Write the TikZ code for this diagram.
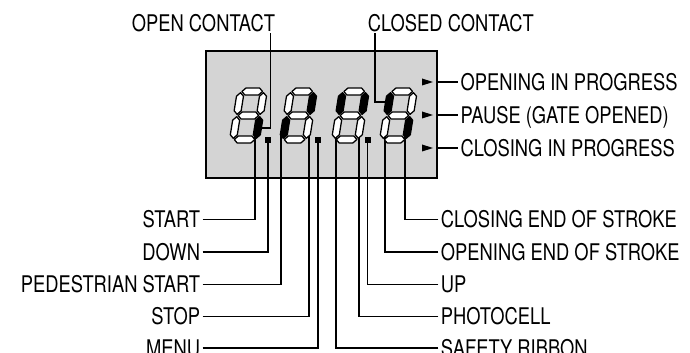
\documentclass[tikz,border=0pt]{standalone}
\usepackage{fontspec}
\setmainfont{TeX Gyre Heros}[FakeStretch=0.8]
\definecolor{lcd}{gray}{0.83}
\newcommand\SGap{1.2}
\newcommand\SHalf{3.5}
% horizontal segment: x1, x2, y, fill
\newcommand\hsegm[4]{\filldraw[seg,fill=#4] ({#1+\SGap},#3) -- ({#1+\SGap+\SHalf},{#3+\SHalf}) -- ({#2-\SGap-\SHalf},{#3+\SHalf}) -- ({#2-\SGap},#3) -- ({#2-\SGap-\SHalf},{#3-\SHalf}) -- ({#1+\SGap+\SHalf},{#3-\SHalf}) -- cycle;}
% vertical segment: x, y1, y2, fill
\newcommand\vsegm[4]{\filldraw[seg,fill=#4] (#1,{#2+\SGap}) -- ({#1+\SHalf},{#2+\SGap+\SHalf}) -- ({#1+\SHalf},{#3-\SGap-\SHalf}) -- (#1,{#3-\SGap}) -- ({#1-\SHalf},{#3-\SGap-\SHalf}) -- ({#1-\SHalf},{#2+\SGap+\SHalf}) -- cycle;}
% digit: x0, fills a b c d e f g
\newcommand\sevdig[8]{%
\begin{scope}[shift={(#1,143)}, x={(0.75pt,0pt)}, y={(0.12pt,0.75pt)}]
\hsegm{3.5}{26.5}{51.5}{#2}
\vsegm{26.5}{27.5}{51.5}{#3}
\vsegm{26.5}{3.5}{27.5}{#4}
\hsegm{3.5}{26.5}{3.5}{#5}
\vsegm{3.5}{3.5}{27.5}{#6}
\vsegm{3.5}{27.5}{51.5}{#7}
\hsegm{3.5}{26.5}{27.5}{#8}
\end{scope}}
\begin{document}
\begin{tikzpicture}[x=0.75pt,y=-0.75pt,
  lab/.style={inner sep=0pt, outer xsep=2pt, outer ysep=1pt, text height=12.3pt, text depth=0pt, font=\fontsize{17.2pt}{20pt}\selectfont},
  wire/.style={line width=1pt},
  seg/.style={line width=0.95pt, line join=round, draw=black}]
\useasboundingbox (0,0) rectangle (690,353);
\node[draw=black, line width=1.7pt, fill=lcd, minimum width=173.25pt, minimum height=95.25pt, inner sep=0pt] (box) at (321.5,114.5) {};
% connector ends
\coordinate (ocend) at (259,128);
\coordinate (ccend) at (388,102);
\coordinate (d1c) at (255,133);
\coordinate (dp1) at (268,140);
\coordinate (d2e) at (281,133);
\coordinate (d2c) at (309,133);
\coordinate (dp2) at (318,140);
\coordinate (d3e) at (336,133);
\coordinate (d3c) at (359,133);
\coordinate (dp3) at (367.5,140);
\coordinate (d4e) at (385,133);
\coordinate (d4c) at (405,133);
% labels
\node[lab, anchor=east] (oc) at (277.7,23.5) {OPEN CONTACT};
\node[lab, anchor=west] (cc) at (365.3,23.5) {CLOSED CONTACT};
\node[lab, anchor=west] (opi) at (458,82) {OPENING IN PROGRESS};
\node[lab, anchor=west] (pau) at (458,115) {PAUSE (GATE OPENED)};
\node[lab, anchor=west] (cip) at (458,148) {CLOSING IN PROGRESS};
\node[lab, anchor=east] (start) at (202.7,219.5) {START};
\node[lab, anchor=east] (down) at (202.7,252) {DOWN};
\node[lab, anchor=east] (ped) at (202.7,284.5) {PEDESTRIAN START};
\node[lab, anchor=east] (stop) at (202.7,316.5) {STOP};
\node[lab, anchor=east] (menu) at (202.7,348) {MENU};
\node[lab, anchor=west] (ce) at (438.3,219.5) {CLOSING END OF STROKE};
\node[lab, anchor=west] (oe) at (438.3,252) {OPENING END OF STROKE};
\node[lab, anchor=west] (up) at (438.3,284.5) {UP};
\node[lab, anchor=west] (ph) at (438.3,316.5) {PHOTOCELL};
\node[lab, anchor=west] (sr) at (438.3,348) {SAFETY RIBBON};
% connectors
\draw[wire] ([xshift=-5.6pt]oc.south east) |- (ocend);
\draw[wire] ([xshift=7.3pt]cc.south west) |- (ccend);
\draw[wire] (box.east |- opi.west) -- (opi.west);
\draw[wire] (box.east |- pau.west) -- (pau.west);
\draw[wire] (box.east |- cip.west) -- (cip.west);
\draw[wire] (start.east) -| (d1c);
\draw[wire] (down.east) -| (dp1);
\draw[wire] (ped.east) -| (d2e);
\draw[wire] (stop.east) -| (d2c);
\draw[wire] (menu.east) -| (dp2);
\draw[wire] (ce.west) -| (d4c);
\draw[wire] (oe.west) -| (d4e);
\draw[wire] (up.west) -| (dp3);
\draw[wire] (ph.west) -| (d3c);
\draw[wire] (sr.west) -| (d3e);
% indicator arrows
\fill (422,78.5) -- (433,82) -- (422,85.5) -- cycle;
\fill (422,111.5) -- (433,115) -- (422,118.5) -- cycle;
\fill (422,144.5) -- (433,148) -- (422,151.5) -- cycle;
% digits
\sevdig{229}{white}{white}{black}{white}{white}{white}{white}
\sevdig{279}{white}{black}{white}{white}{black}{white}{white}
\sevdig{331}{white}{black}{white}{white}{white}{black}{white}
\sevdig{379}{white}{white}{black}{white}{white}{black}{white}
% decimal points
\fill (265,137) rectangle (271,143);
\fill (315,137) rectangle (321,143);
\fill (364.5,137) rectangle (370.5,143);
\end{tikzpicture}
\end{document}
